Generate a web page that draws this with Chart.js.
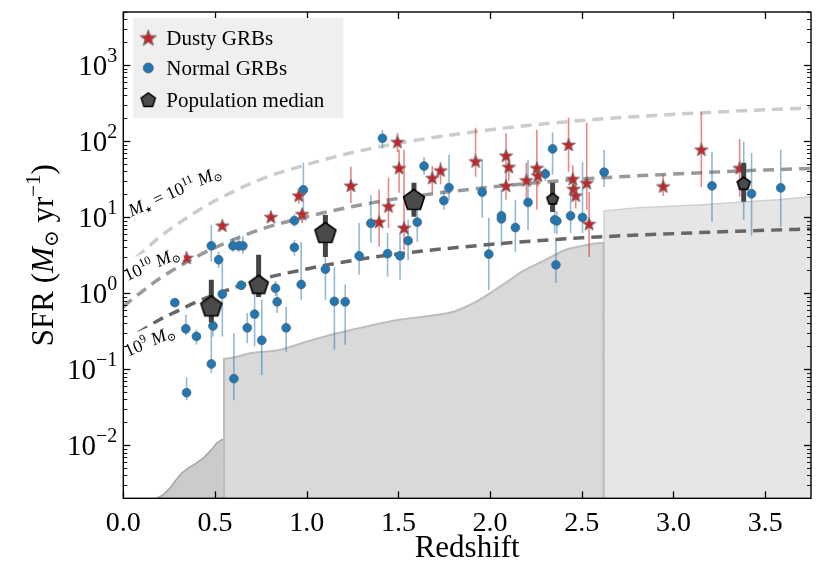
<!DOCTYPE html>
<html><head><meta charset="utf-8">
<script src="https://cdn.jsdelivr.net/npm/chart.js@4.4.1/dist/chart.umd.min.js"></script>
<style>html,body{margin:0;padding:0;background:#fff}#wrap{width:822px;height:587px}</style>
</head><body><div id="wrap"><canvas id="c" width="822" height="587"></canvas></div>
<script>
// ---------------- data ----------------
const xTickValues = [0, 0.5, 1.0, 1.5, 2.0, 2.5, 3.0, 3.5];
const yTickValues = [0.01, 0.1, 1, 10, 100, 1000];
const yTickExponents = ['\u22122', '\u22121', '0', '1', '2', '3'];

// main-sequence curves
const curveZ = [0, 0.05, 0.1, 0.2, 0.3, 0.4, 0.5, 0.75, 1.0, 1.25, 1.5, 2.0, 2.5, 3.0, 3.5, 3.75];
const ms9  = [0.22, 0.27, 0.32, 0.45, 0.59, 0.77, 0.96, 1.52, 2.08, 2.69, 3.29, 4.37, 5.34, 6.07, 6.71, 6.99];
const ms10 = [0.66, 0.84, 1.04, 1.57, 2.21, 3.02, 3.98, 6.92, 10.1, 13.8, 17.6, 24.8, 31.6, 36.9, 41.7, 43.8];
const ms11 = [2.0, 2.65, 3.39, 5.51, 8.26, 11.9, 16.4, 31.5, 49.2, 70.8, 94, 141, 187, 225, 259, 274];

// detection-limit regions
const limAZ = [0.18, 0.217, 0.254, 0.281, 0.317, 0.353, 0.399, 0.435, 0.48, 0.508, 0.535, 0.5435];
const limAS = [0.002, 0.00222, 0.00272, 0.00332, 0.00428, 0.00498, 0.0058, 0.00675, 0.00867, 0.0106, 0.0117, 0.012];
const limBZ = [0.549, 0.549, 0.705, 0.852, 0.998, 1.178, 1.342, 1.504, 1.667, 1.8, 1.9, 2.0, 2.1, 2.172, 2.303, 2.412, 2.482, 2.618, 2.618];
const limBS = [0.002, 0.137, 0.164, 0.179, 0.229, 0.301, 0.371, 0.446, 0.502, 0.57, 0.72, 1.0, 1.45, 1.91, 2.74, 3.72, 4.07, 4.59, 0.002];
const limCZ = [2.622, 2.622, 2.808, 3.134, 3.569, 3.75];
const limCS = [0.002, 12.1, 13.3, 14.5, 16.9, 18.5];

// Normal GRBs
const normalZ  = [0.281,0.341,0.399,0.345,0.48,0.489,0.48,0.52,0.54,0.598,0.629,0.652,0.643,0.603,0.676,0.716,0.755,0.83,0.839,0.888,0.933,0.933,0.97,0.982,1.102,1.151,1.21,1.286,1.35,1.413,1.441,1.509,1.553,1.603,1.64,1.748,1.776,1.957,1.993,2.062,2.062,2.138,2.207,2.301,2.341,2.352,2.364,2.359,2.439,2.504,2.622,3.21,3.383,3.426,3.585];
const normalSFR= [0.75,0.34,0.27,0.049,4.2,0.37,0.117,2.75,0.97,4.2,4.2,4.2,1.27,0.075,0.35,0.53,0.24,1.16,0.77,0.35,9.0,4.0,1.3,22.9,2.07,0.78,0.77,3.1,8.3,109,3.3,3.1,4.9,8.6,47,16.5,24.5,21.3,3.26,10.4,9.5,7.3,15.6,37,79,9.2,8.9,2.36,10.4,9.9,39,25.8,27.4,20.3,24.3];
const normalLo = [null,0.28,0.21,0.039,2.6,0.27,0.089,2.15,0.27,3.5,3.5,3.3,null,0.039,0.22,0.2,0.084,0.92,0.55,0.17,7.5,3.1,0.82,9.2,0.82,0.18,0.21,1.74,4.6,80,1.64,1.5,2.7,4.7,36,12.5,17,9.8,1.1,4.1,4.5,3.5,6.8,30,36,6.2,6.0,1.37,6.2,6.2,25,8.7,9.2,5.7,7.5];
const normalHi = [null,0.52,0.33,0.078,7.9,0.5,0.36,3.5,2.5,5.3,5.3,5.6,null,0.3,0.55,0.95,0.82,1.45,1.0,0.66,11,5.0,4.7,52,4.7,2.2,1.3,8.4,19.6,140,6.2,6.2,9.2,17.9,62,23,66,57,9.8,23,20,17,57,45,130,12.5,12,5.0,23,53,77,72,98,70,77];

// Dusty GRBs
const dustyZ  = [0.345,0.54,0.805,0.957,0.975,1.241,1.395,1.446,1.495,1.504,1.531,1.685,1.73,1.921,2.087,2.102,2.087,2.198,2.255,2.261,2.428,2.451,2.455,2.467,2.527,2.54,2.944,3.152,3.361];
const dustySFR= [2.9,7.7,10.0,19.1,10.9,25.8,8.6,13.8,97,44,7.2,32.6,41,54,64,45.5,25.8,30.3,44,35,89,31.6,23.4,19.1,28,8.1,25.3,77,44];
const dustyLo = [null,null,null,15,8.3,15.4,4.1,7.2,72,21,3.7,21,27,34,26,30,17,17,12.5,25,39.5,22,17,13,12.5,3.0,19,25,18.5];
const dustyHi = [null,null,null,24,13,46,23,33,128,77,77,47,53,150,128,60,35,52,141,45,203,48,32,28,174,21.5,36,243,107];

// Population medians
const medianZ  = [0.48, 0.738, 1.102, 1.585, 2.341, 3.383];
const medianSFR= [0.67, 1.29, 6.2, 16.9, 17.4, 27.8];
const medianLo = [0.41, 0.89, 3.0, 10.1, 11.7, 15.9];
const medianHi = [1.5, 3.2, 10.7, 28.3, 28.3, 51.8];

// ---------------- styling helpers ----------------
const FONT = '"Liberation Serif", "DejaVu Serif", serif';
const medianSizes = [11, 10, 11, 11, 6, 6.8];

function polyCanvas(n, R, r, fill, stroke, lw) {
  const s = Math.ceil(2 * R + 2 * lw + 4);
  const c = document.createElement('canvas'); c.width = s; c.height = s;
  const g = c.getContext('2d'); const cx = s / 2, cy = s / 2 + (n === 5 ? R * 0.05 : 0);
  g.beginPath();
  const k = r ? 2 * n : n;
  for (let i = 0; i < k; i++) {
    const a = -Math.PI / 2 + i * 2 * Math.PI / k;
    const rad = (r && i % 2) ? r : R;
    g.lineTo(cx + rad * Math.cos(a), cy + rad * Math.sin(a));
  }
  g.closePath(); g.fillStyle = fill; g.fill();
  g.lineJoin = 'miter'; g.lineWidth = lw; g.strokeStyle = stroke; g.stroke();
  return c;
}
const starImg = polyCanvas(5, 7, 2.9, '#c0272d', '#7a6a6a', 0.9);
const starLegendImg = polyCanvas(5, 8.5, 3.5, '#c0272d', '#7a6a6a', 1);
const pentImgs = medianSizes.map(r => polyCanvas(5, r, 0, '#4a4a4a', '#000', 1.6));
const pentLegendImg = polyCanvas(5, 7.5, 0, '#4a4a4a', '#000', 1.4);

function pts(zs, ss) { return zs.map((z, i) => ({x: z, y: ss[i]})); }
function errSegs(zs, lo, hi) {
  const out = [];
  zs.forEach((z, i) => { if (lo[i] == null) return; out.push({x: z, y: lo[i]}, {x: z, y: hi[i]}, {x: z, y: null}); });
  return out;
}

function drawRich(ctx, segs, x, y, align) {
  let w = 0;
  segs.forEach(s => { ctx.font = (s.it ? 'italic ' : '') + s.size + 'px ' + (s.f || FONT); s._w = ctx.measureText(s.t).width; w += s._w; });
  let cx = align === 'right' ? x - w : align === 'center' ? x - w / 2 : x;
  ctx.textBaseline = 'alphabetic'; ctx.textAlign = 'left';
  segs.forEach(s => { ctx.font = (s.it ? 'italic ' : '') + s.size + 'px ' + (s.f || FONT); ctx.fillText(s.t, cx, y + (s.dy || 0)); cx += s._w; });
  return w;
}

const annotations = [
  {z: 0.282, s: 21.5, segs: [{t:'M', it:1, size:18}, {t:'\u2605', size:8, dy:3, f:'"DejaVu Sans"'}, {t:' = 10', size:18}, {t:'11', size:12, dy:-7}, {t:' M', it:1, size:18}, {t:'\u2299', size:11, dy:3}]},
  {z: 0.156, s: 2.36, segs: [{t:'10', size:18}, {t:'10', size:12, dy:-7}, {t:' M', it:1, size:18}, {t:'\u2299', size:11, dy:3}]},
  {z: 0.145, s: 0.229, segs: [{t:'10', size:18}, {t:'9', size:12, dy:-7}, {t:' M', it:1, size:18}, {t:'\u2299', size:11, dy:3}]}
];

const decor = {
  id: 'decor',
  afterDatasetsDraw(chart) {
    const {ctx, scales: {x, y}} = chart;
    ctx.save();
    annotations.forEach(a => {
      const px = x.getPixelForValue(a.z), py = y.getPixelForValue(a.s);
      ctx.save(); ctx.translate(px, py); ctx.rotate(-24 * Math.PI / 180);
      let w = 0;
      a.segs.forEach(s => { ctx.font = (s.it ? 'italic ' : '') + s.size + 'px ' + (s.f || FONT); w += ctx.measureText(s.t).width; });
      ctx.fillStyle = '#fff'; ctx.fillRect(-w / 2 - 3, -14, w + 6, 22);
      ctx.fillStyle = '#000';
      drawRich(ctx, a.segs, 0, 5, 'center');
      ctx.restore();
    });
    ctx.restore();
  },
  afterDraw(chart) {
    const {ctx, chartArea: a, scales: {x, y}} = chart;
    ctx.save();
    ctx.strokeStyle = '#000'; ctx.lineWidth = 1.3;
    const line = (x1, y1, x2, y2) => { ctx.beginPath(); ctx.moveTo(x1, y1); ctx.lineTo(x2, y2); ctx.stroke(); };
    xTickValues.forEach(v => { const px = Math.round(x.getPixelForValue(v)) + 0.5; line(px, a.bottom, px, a.bottom - 7); line(px, a.top, px, a.top + 7); });
    for (let e = -3; e <= 3; e++) for (let m = 1; m < 10; m++) {
      const v = m * Math.pow(10, e); if (v < y.min || v > y.max) continue;
      const py = Math.round(y.getPixelForValue(v)) + 0.5; const len = m === 1 ? 7 : 4;
      ctx.lineWidth = m === 1 ? 1.3 : 0.9;
      line(a.left, py, a.left + len, py); line(a.right, py, a.right - len, py);
    }
    ctx.lineWidth = 1.4; ctx.strokeRect(a.left, a.top, a.right - a.left, a.bottom - a.top);
    // y tick labels
    ctx.fillStyle = '#000';
    yTickValues.forEach((v, i) => {
      const py = y.getPixelForValue(v);
      drawRich(ctx, [{t:'10', size:29}, {t:yTickExponents[i], size:20, dy:-13}], a.left - 6, py + 10, 'right');
    });
    // y title
    ctx.save(); ctx.translate(42, (a.top + a.bottom) / 2); ctx.rotate(-Math.PI / 2);
    drawRich(ctx, [{t:'SFR (', size:31}, {t:'M', it:1, size:31}, {t:'\u2299', size:20, dy:5}, {t:' yr', size:31}, {t:'\u22121', size:21, dy:-13}, {t:')', size:31}], 0, 11, 'center');
    ctx.restore();
    // legend
    const lx = a.left + 10, ly = a.top + 6;
    ctx.fillStyle = '#efefef'; ctx.fillRect(lx, ly, 210, 100);
    ctx.drawImage(starLegendImg, lx + 15 - starLegendImg.width / 2, ly + 20 - starLegendImg.height / 2);
    ctx.beginPath(); ctx.arc(lx + 15, ly + 50, 5, 0, 2 * Math.PI); ctx.fillStyle = '#1f77b4'; ctx.fill(); ctx.lineWidth = 0.8; ctx.strokeStyle = '#55606a'; ctx.stroke();
    ctx.drawImage(pentLegendImg, lx + 15 - pentLegendImg.width / 2, ly + 82 - pentLegendImg.height / 2);
    ctx.fillStyle = '#000'; ctx.font = '21px ' + FONT; ctx.textBaseline = 'middle'; ctx.textAlign = 'left';
    ctx.fillText('Dusty GRBs', lx + 33, ly + 21);
    ctx.fillText('Normal GRBs', lx + 33, ly + 51);
    ctx.fillText('Population median', lx + 33, ly + 83);
    ctx.restore();
  }
};

const lineBase = {type: 'line', showLine: true, pointRadius: 0, pointHoverRadius: 0, tension: 0, fill: false, spanGaps: false, borderCapStyle: 'butt'};

new Chart(document.getElementById('c'), {
  type: 'line',
  data: {
    datasets: [
      Object.assign({}, lineBase, {label: 'limA', data: pts(limAZ, limAS), fill: 'start', backgroundColor: '#cbcbcb', borderColor: '#a6a6a6', borderWidth: 1.5, order: 20}),
      Object.assign({}, lineBase, {label: 'limB', data: pts(limBZ, limBS), fill: 'start', backgroundColor: '#d9d9d9', borderColor: '#bdbdbd', borderWidth: 2, cubicInterpolationMode: 'monotone', order: 21}),
      Object.assign({}, lineBase, {label: 'limC', data: pts(limCZ, limCS), fill: 'start', backgroundColor: '#e6e6e6', borderColor: '#d0d0d0', borderWidth: 1.5, order: 22}),
      Object.assign({}, lineBase, {label: 'ms11', data: pts(curveZ, ms11), borderColor: '#cccccc', borderWidth: 3.5, borderDash: [11, 7], cubicInterpolationMode: 'monotone', order: 15}),
      Object.assign({}, lineBase, {label: 'ms10', data: pts(curveZ, ms10), borderColor: '#999999', borderWidth: 3.5, borderDash: [11, 7], cubicInterpolationMode: 'monotone', order: 14}),
      Object.assign({}, lineBase, {label: 'ms9', data: pts(curveZ, ms9), borderColor: '#666666', borderWidth: 3.5, borderDash: [11, 7], cubicInterpolationMode: 'monotone', order: 13}),
      Object.assign({}, lineBase, {label: 'errNormal', data: errSegs(normalZ, normalLo, normalHi), borderColor: 'rgba(31,119,180,0.5)', borderWidth: 1.6, order: 12}),
      Object.assign({}, lineBase, {label: 'errDusty', data: errSegs(dustyZ, dustyLo, dustyHi), borderColor: 'rgba(214,39,40,0.55)', borderWidth: 1.6, order: 11}),
      {type: 'line', label: 'Normal GRBs', data: pts(normalZ, normalSFR), showLine: false, pointStyle: 'circle', pointRadius: 4.4, pointHoverRadius: 4.4, backgroundColor: '#1f77b4', borderColor: '#5b6670', pointBorderWidth: 0.8, order: 10},
      {type: 'line', label: 'Dusty GRBs', data: pts(dustyZ, dustySFR), showLine: false, pointStyle: starImg, pointRadius: 7, order: 9},
      Object.assign({}, lineBase, {label: 'errMedian', data: errSegs(medianZ, medianLo, medianHi), borderColor: '#444444', borderWidth: 5, order: 8}),
      {type: 'line', label: 'Population median', data: pts(medianZ, medianSFR), showLine: false, pointStyle: pentImgs, pointRadius: 10, order: 7}
    ]
  },
  options: {
    responsive: false, animation: false, devicePixelRatio: 1,
    layout: {padding: {top: 12, right: 8.7, left: 0, bottom: 0}},
    plugins: {legend: {display: false}, tooltip: {enabled: false}},
    events: [],
    scales: {
      x: {
        type: 'linear', min: 0, max: 3.75,
        grid: {display: false, drawTicks: false}, border: {display: false},
        afterBuildTicks: s => { s.ticks = xTickValues.map(v => ({value: v})); },
        ticks: {color: '#000', font: {family: FONT, size: 28}, padding: 9, maxRotation: 0, callback: v => Number(v).toFixed(1)},
        title: {display: true, text: 'Redshift', color: '#000', font: {family: FONT, size: 31}, padding: {top: 0, bottom: 20}},
        afterFit: s => { s.height = 88.7; }
      },
      y: {
        type: 'logarithmic', min: 0.002, max: 5000,
        grid: {display: false, drawTicks: false}, border: {display: false},
        afterBuildTicks: s => { s.ticks = yTickValues.map(v => ({value: v})); },
        ticks: {display: false},
        afterFit: s => { s.width = 123.3; }
      }
    }
  },
  plugins: [decor]
});
</script>
</body></html>
